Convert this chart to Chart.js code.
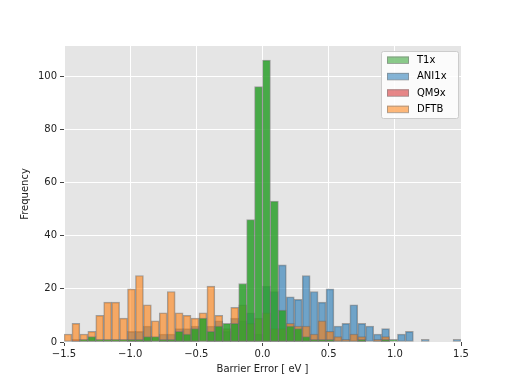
<!DOCTYPE html>
<html lang="en">
<head>
  <meta charset="UTF-8">
  <title>Barrier Error Histogram</title>
  <script src="https://cdn.jsdelivr.net/npm/chart.js"></script>
  <style>
    html, body {
      margin: 0;
      padding: 0;
      background: #fff;
    }
    #wrap {
      width: 512px;
      height: 384px;
    }
  </style>
</head>
<body>
  <div id="wrap"><canvas id="histChart" width="512" height="384"></canvas></div>

  <script>
    // 50 bins of width 0.06 from -1.5 to 1.5
    const binStart = -1.5;
    const binWidth = 0.06;

    const t1x = [0, 0, 1, 2, 1, 1, 1, 1, 1, 1,
                 2, 2, 1, 1, 4, 3, 5, 9, 4, 6,
                 7, 7, 22, 46, 96, 106, 53, 12, 6, 5,
                 2, 1, 1, 1, 0, 0, 0, 1, 0, 0,
                 1, 1, 0, 0, 0, 0, 0, 0, 0, 0];
    const ani1x = [0, 0, 0, 0, 0, 0, 0, 0, 4, 4,
                   6, 0, 3, 3, 5, 5, 6, 0, 6, 8,
                   4, 9, 8, 11, 3, 21, 19, 29, 17, 16,
                   25, 19, 15, 20, 6, 7, 14, 7, 6, 3,
                   5, 0, 3, 4, 0, 1, 0, 0, 0, 1];
    const qm9x = [0, 1, 0, 0, 0, 0, 0, 0, 0, 0,
                  0, 0, 0, 0, 0, 0, 0, 0, 0, 0,
                  0, 0, 0, 0, 0, 0, 0, 0, 0, 0,
                  0, 0, 0, 0, 0, 0, 0, 0, 0, 0,
                  0, 0, 0, 0, 0, 0, 0, 0, 0, 0];
    const dftb = [3, 7, 3, 4, 10, 15, 15, 9, 20, 25,
                  14, 8, 11, 19, 11, 10, 9, 11, 21, 10,
                  5, 13, 14, 7, 9, 11, 5, 5, 7, 6,
                  6, 3, 8, 4, 2, 1, 3, 2, 0, 1,
                  2, 0, 0, 0, 0, 0, 0, 0, 0, 0];

    const xTicks = [-1.5, -1.0, -0.5, 0.0, 0.5, 1.0, 1.5];
    const yTicks = [0, 20, 40, 60, 80, 100];

    const seriesNames = ['T1x', 'ANI1x', 'QM9x', 'DFTB'];
    const seriesData = [t1x, ani1x, qm9x, dftb];
    // lower order is painted on top: T1x, then DFTB, QM9x, ANI1x underneath
    const drawOrder = [0, 3, 2, 1];
    const fills = ['rgba(44,160,44,0.85)', 'rgba(31,119,180,0.6)', 'rgba(214,39,40,0.6)', 'rgba(255,127,14,0.6)'];
    const swatches = ['rgba(44,160,44,0.55)', 'rgba(31,119,180,0.55)', 'rgba(214,39,40,0.55)', 'rgba(255,127,14,0.55)'];

    const toPoints = counts => counts.map((c, i) => ({ x: binStart + binWidth * (i + 0.5), y: c }));
    const fmt = v => (v < 0 ? '\u2212' : '') + Math.abs(v).toFixed(1);

    const plotBg = {
      id: 'plotBg',
      beforeDraw(chart) {
        const { ctx, chartArea: a } = chart;
        ctx.save();
        ctx.fillStyle = '#e5e5e5';
        ctx.fillRect(a.left, a.top, a.right - a.left, a.bottom - a.top);
        ctx.restore();
      }
    };

    // legend box in the upper right corner of the plot
    const boxLegend = {
      id: 'boxLegend',
      afterDraw(chart) {
        const { ctx, chartArea: a } = chart;
        const w = 77, h = 67;
        const x = a.right - w - 3, y = a.top + 5;
        ctx.save();
        ctx.fillStyle = 'rgba(255,255,255,0.85)';
        ctx.strokeStyle = '#cccccc';
        ctx.lineWidth = 1;
        ctx.beginPath();
        ctx.roundRect(x + 0.5, y + 0.5, w, h, 2);
        ctx.fill();
        ctx.stroke();
        ctx.font = '10px "DejaVu Sans"';
        ctx.textBaseline = 'middle';
        seriesNames.forEach((name, i) => {
          const cy = y + 9 + i * 16.4;
          ctx.fillStyle = swatches[i];
          ctx.fillRect(x + 6, cy - 3.5, 22, 7);
          ctx.strokeStyle = 'rgba(128,128,128,0.6)';
          ctx.strokeRect(x + 6.5, cy - 3, 21, 6.5);
          ctx.fillStyle = '#000';
          ctx.fillText(name, x + 36, cy + 0.5);
        });
        ctx.restore();
      }
    };

    const ctx = document.getElementById('histChart').getContext('2d');
    new Chart(ctx, {
      type: 'bar',
      data: {
        datasets: seriesNames.map((name, i) => ({
          label: name,
          data: toPoints(seriesData[i]),
          order: drawOrder[i],
          backgroundColor: fills[i],
          borderColor: 'rgba(110,110,110,0.6)',
          borderWidth: 1,
          borderSkipped: false,
          grouped: false,
          barPercentage: 1,
          categoryPercentage: 1
        }))
      },
      options: {
        responsive: false,
        animation: false,
        layout: {
          padding: { top: 46, right: 51, left: 0, bottom: 0 }
        },
        plugins: {
          legend: { display: false },
          tooltip: { enabled: false }
        },
        scales: {
          x: {
            type: 'linear',
            min: -1.5,
            max: 1.5,
            offset: false,
            afterFit: s => { s.height = 42; },
            afterBuildTicks: s => { s.ticks = xTicks.map(v => ({ value: v })); },
            ticks: {
              callback: v => fmt(v),
              color: '#222',
              font: { family: 'DejaVu Sans', size: 10 },
              padding: 2,
              maxRotation: 0
            },
            grid: {
              color: '#ffffff',
              lineWidth: 1,
              offset: false,
              tickColor: '#444',
              tickLength: 4
            },
            border: { display: false },
            title: {
              display: true,
              text: 'Barrier Error [ eV ]',
              color: '#222',
              font: { family: 'DejaVu Sans', size: 10 },
              padding: { top: 0, bottom: 9 }
            }
          },
          y: {
            min: 0,
            max: 111.3,
            afterFit: s => { s.width = 64; },
            afterBuildTicks: s => { s.ticks = yTicks.map(v => ({ value: v })); },
            ticks: {
              color: '#222',
              font: { family: 'DejaVu Sans', size: 10 },
              padding: 3
            },
            grid: {
              color: '#ffffff',
              lineWidth: 1,
              tickColor: '#444',
              tickLength: 4
            },
            border: { display: false },
            title: {
              display: true,
              text: 'Frequency',
              color: '#222',
              font: { family: 'DejaVu Sans', size: 10 },
              padding: { top: 19, bottom: 0 }
            }
          }
        }
      },
      plugins: [plotBg, boxLegend]
    });
  </script>
</body>
</html>
